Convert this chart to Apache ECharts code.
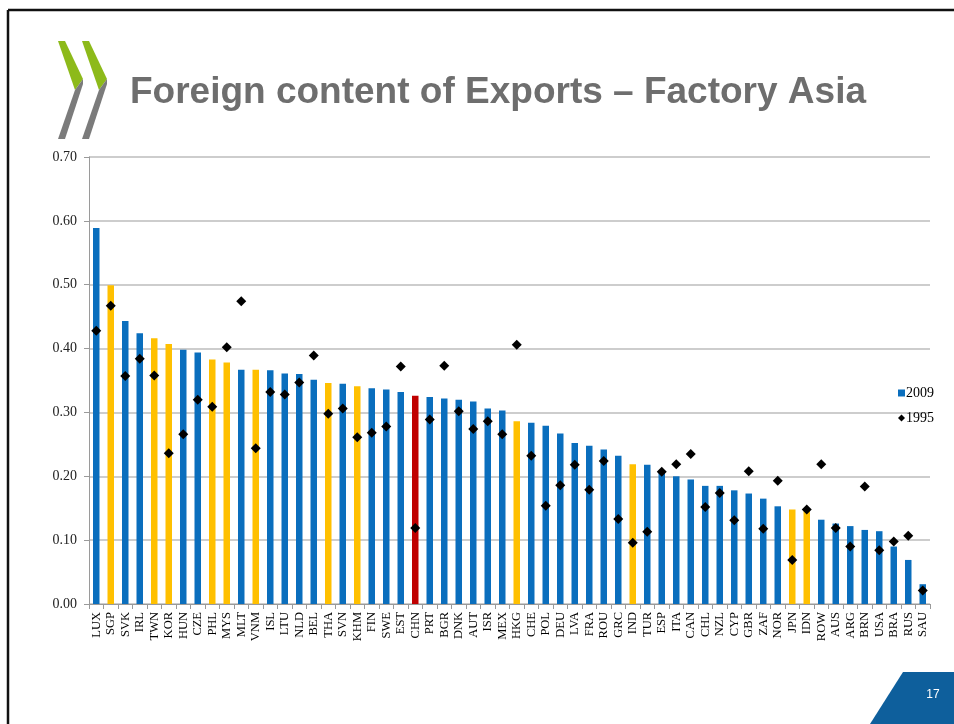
<!DOCTYPE html>
<html>
<head>
<meta charset="utf-8">
<title>Foreign content of Exports – Factory Asia</title>
<script src="https://cdn.jsdelivr.net/npm/echarts@6/dist/echarts.min.js"></script>
<style>
  html, body { margin: 0; padding: 0; background: #ffffff; }
  #chart { width: 954px; height: 724px; }
</style>
</head>
<body>
<div id="chart"></div>
<script>
// Economies, sorted by foreign value-added share of gross exports in 2009
const categories = ['LUX','SGP','SVK','IRL','TWN','KOR','HUN','CZE','PHL','MYS','MLT','VNM','ISL','LTU','NLD','BEL','THA','SVN','KHM','FIN','SWE','EST','CHN','PRT','BGR','DNK','AUT','ISR','MEX','HKG','CHE','POL','DEU','LVA','FRA','ROU','GRC','IND','TUR','ESP','ITA','CAN','CHL','NZL','CYP','GBR','ZAF','NOR','JPN','IDN','ROW','AUS','ARG','BRN','USA','BRA','RUS','SAU'];

// Foreign content share, 2009 (bars)
const share2009 = [0.589,0.499,0.443,0.424,0.416,0.407,0.398,0.394,0.383,0.378,0.367,0.367,0.366,0.361,0.360,0.351,0.346,0.345,0.341,0.338,0.336,0.332,0.326,0.324,0.322,0.320,0.317,0.306,0.303,0.286,0.284,0.279,0.267,0.252,0.248,0.242,0.232,0.219,0.218,0.207,0.200,0.195,0.185,0.185,0.178,0.173,0.165,0.153,0.148,0.146,0.132,0.126,0.122,0.116,0.114,0.090,0.069,0.031];

// Foreign content share, 1995 (diamonds)
const share1995 = [0.428,0.467,0.357,0.384,0.358,0.236,0.266,0.320,0.309,0.402,0.474,0.244,0.332,0.328,0.347,0.389,0.298,0.306,0.261,0.268,0.278,0.372,0.119,0.289,0.373,0.302,0.274,0.286,0.266,0.406,0.232,0.154,0.186,0.218,0.179,0.224,0.133,0.096,0.113,0.207,0.219,0.235,0.152,0.174,0.131,0.208,0.118,0.193,0.069,0.148,0.219,0.119,0.090,0.184,0.084,0.098,0.107,0.021];

// "Factory Asia" economies, highlighted in yellow; China in red
const factoryAsia = ['SGP','TWN','KOR','PHL','MYS','VNM','THA','KHM','HKG','IND','JPN','IDN'];
const highlighted = ['CHN'];

const yTicks = [0, 0.1, 0.2, 0.3, 0.4, 0.5, 0.6, 0.7];

const BLUE = '#0a6ebd';
const YELLOW = '#ffc000';
const RED = '#c00000';
const serif = '"Liberation Serif", "DejaVu Serif", serif';

function barColor(code) {
  if (highlighted.includes(code)) return RED;
  if (factoryAsia.includes(code)) return YELLOW;
  return BLUE;
}

const chart = echarts.init(document.getElementById('chart'), null, { renderer: 'canvas' });

// Two-tone chevron mark: green upper stroke, grey lower stroke
function chevron(dx) {
  return [
    { type: 'polygon', shape: { points: [[58+dx,41],[65+dx,41],[83+dx,79],[75+dx,90]] }, style: { fill: '#8dba1a' }, silent: true },
    { type: 'polygon', shape: { points: [[75+dx,90],[83+dx,79],[83+dx,84],[65+dx,139],[58+dx,139]] }, style: { fill: '#7b7b7b' }, silent: true }
  ];
}

chart.setOption({
  animation: false,
  backgroundColor: '#ffffff',
  graphic: [
    // slide frame
    { type: 'line', shape: { x1: 8, y1: 10, x2: 954, y2: 10 }, style: { stroke: '#111', lineWidth: 2.5 }, silent: true },
    { type: 'line', shape: { x1: 8, y1: 10, x2: 8, y2: 724 }, style: { stroke: '#111', lineWidth: 2.5 }, silent: true },
    ...chevron(0),
    ...chevron(24),
    { type: 'text', x: 130, y: 93,
      style: { text: 'Foreign content of Exports – Factory Asia', fill: '#6e6e6e',
               font: 'bold 37px "Liberation Sans", Arial, sans-serif', textVerticalAlign: 'middle' }, silent: true },
    // page number badge
    { type: 'polygon', shape: { points: [[870,724],[903,672],[954,672],[954,724]] }, style: { fill: '#0e5f9c' }, silent: true },
    { type: 'text', x: 933, y: 695,
      style: { text: '17', fill: '#ffffff', font: '12px "Liberation Sans", Arial, sans-serif', textAlign: 'center', textVerticalAlign: 'middle' }, silent: true }
  ],
  legend: {
    orient: 'vertical',
    left: 898,
    top: 386,
    padding: 0,
    itemWidth: 7,
    itemHeight: 7,
    itemGap: 11,
    textStyle: { fontFamily: serif, fontSize: 14, color: '#000', padding: [0, 0, 0, -4] },
    data: [
      { name: '2009', icon: 'rect', itemStyle: { color: BLUE } },
      { name: '1995', icon: 'diamond', itemStyle: { color: '#000' } }
    ]
  },
  grid: { left: 89, right: 24, top: 157, bottom: 120 },
  xAxis: {
    type: 'category',
    data: categories,
    boundaryGap: true,
    axisLine: { lineStyle: { color: '#9a9a9a', width: 1 } },
    axisTick: { show: true, length: 5, lineStyle: { color: '#9a9a9a' } },
    axisLabel: { rotate: 90, interval: 0, margin: 8, fontFamily: serif, fontSize: 12.5, color: '#000' }
  },
  yAxis: {
    type: 'value',
    min: 0,
    max: 0.7,
    interval: 0.1,
    axisLine: { show: true, lineStyle: { color: '#9a9a9a', width: 1 } },
    axisTick: { show: true, length: 5, lineStyle: { color: '#9a9a9a' } },
    splitLine: { lineStyle: { color: '#bdbdbd', width: 1.5 } },
    axisLabel: {
      margin: 12, fontFamily: serif, fontSize: 14, color: '#222',
      formatter: v => {
        const t = yTicks.find(x => Math.abs(x - v) < 1e-9);
        return (t === undefined ? v : t).toFixed(2);
      }
    }
  },
  series: [
    {
      name: '2009',
      type: 'bar',
      barWidth: 6.5,
      itemStyle: { color: BLUE },
      data: share2009.map((v, i) => ({ value: v, itemStyle: { color: barColor(categories[i]) } })),
      z: 2
    },
    {
      name: '1995',
      type: 'scatter',
      symbol: 'diamond',
      symbolSize: [10, 10],
      itemStyle: { color: '#000', opacity: 1 },
      data: share1995,
      z: 3
    }
  ]
});
</script>
</body>
</html>
